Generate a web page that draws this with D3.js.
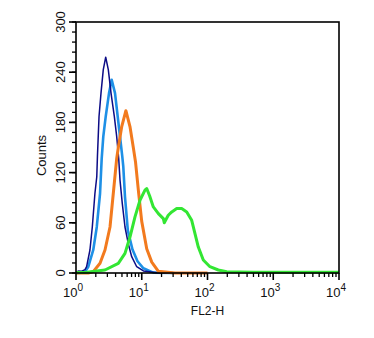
<!DOCTYPE html>
<html><head><meta charset="utf-8">
<script src="https://cdn.jsdelivr.net/npm/d3@7"></script>
<style>body{margin:0;background:#fff}svg{display:block}text{font-family:"Liberation Sans",Arial,sans-serif;fill:#111}</style>
</head><body><div id="c"></div>
<script>
// FL2-H intensity (x) and counts (y) per series
const navyX = [1.0, 1.1, 1.2, 1.37, 1.45, 1.63, 1.77, 1.94, 2.07, 2.12, 2.24, 2.40, 2.60, 2.83, 3.10, 3.41, 3.83, 4.16, 4.46, 4.67, 5.06, 5.56, 6.24, 7.03, 8.38, 10.6, 16.9, 30];
const navyY = [1, 2.5, 2, 4, 7.5, 27.5, 55, 95, 115, 140, 187, 215, 243, 258, 243, 215, 187, 163, 137, 111, 83, 55, 35, 19.5, 7.5, 2.4, 0.4, 0];
const blueX = [1.0, 1.2, 1.37, 1.54, 1.83, 2.07, 2.32, 2.46, 2.60, 2.83, 3.18, 3.49, 3.92, 4.31, 4.67, 5.06, 5.24, 5.56, 6.14, 7.23, 8.62, 10.6, 15.0, 30];
const blueY = [0, 0.5, 1.5, 7.5, 27.5, 55, 95, 137, 163, 187, 215, 231, 215, 187, 163, 139, 127, 91, 51, 28, 14, 5.6, 0.4, 0];
const orangeX = [1.0, 1.54, 1.83, 2.32, 2.76, 3.29, 3.69, 4.16, 4.40, 4.96, 5.74, 6.62, 7.44, 8.03, 8.93, 9.98, 11.9, 14.2, 17.9, 32, 100];
const orangeY = [0, 0, 1.6, 11.6, 27.5, 55, 95, 137, 150, 175, 194, 175, 150, 133, 97, 62, 29, 13, 2, 0, 0];
const greenX = [1.0, 1.37, 2.76, 4.40, 5.56, 6.62, 7.89, 9.40, 11.2, 11.9, 13.2, 15.0, 17.9, 21.3, 22.0, 25.3, 28.6, 34.0, 40.5, 48.3, 57.5, 64.5, 72.5, 86.3, 109, 146, 196, 500, 1000, 3000, 10000];
const greenY = [0.5, 0.5, 3.6, 11.6, 23.5, 43, 67, 87, 99, 101, 92, 79, 71, 65, 60, 69, 73, 77, 77, 73, 63, 47, 31, 15.5, 7.5, 3.6, 1.6, 1, 1, 1, 1];
const yTickValues = [0, 60, 120, 180, 240, 300];
const xDecades = [0, 1, 2, 3, 4];
const xLabel = "FL2-H";
const yLabel = "Counts";

const W = 374, H = 338;
const m = {l: 76, t: 22, r: 35, b: 65};
const svg = d3.select("#c").append("svg").attr("width", W).attr("height", H);
const x = d3.scaleLog().domain([1, 10000]).range([m.l, W - m.r]);
const y = d3.scaleLinear().domain([0, 300]).range([H - m.b, m.t]);

const series = [
  {X: blueX, Y: blueY, c: "#1e90e6", w: 2.6},
  {X: navyX, Y: navyY, c: "#0c0c86", w: 1.5},
  {X: orangeX, Y: orangeY, c: "#f27a1e", w: 3},
  {X: greenX, Y: greenY, c: "#33e633", w: 3}
];
const line = d3.line().x(d => x(d[0])).y(d => y(d[1]));
series.forEach(s => {
  svg.append("path").datum(s.X.map((v, i) => [v, s.Y[i]]))
    .attr("d", line).attr("fill", "none").attr("stroke", s.c)
    .attr("stroke-width", s.w).attr("stroke-linejoin", "round");
});

// frame
svg.append("rect").attr("x", m.l).attr("y", m.t)
  .attr("width", W - m.r - m.l).attr("height", H - m.b - m.t)
  .attr("fill", "none").attr("stroke", "#000").attr("stroke-width", 1.6);

// x ticks
const xMinor = [];
xDecades.slice(0, -1).forEach(d => { for (let k = 2; k <= 9; k++) xMinor.push(k * Math.pow(10, d)); });
const xAxis = svg.append("g").attr("transform", `translate(0,${H - m.b})`);
xAxis.selectAll("line.mi").data(xMinor).join("line")
  .attr("x1", d => x(d)).attr("x2", d => x(d)).attr("y1", 0).attr("y2", 4)
  .attr("stroke", "#000").attr("stroke-width", 1.3);
xAxis.selectAll("line.ma").data(xDecades).join("line")
  .attr("x1", d => x(Math.pow(10, d))).attr("x2", d => x(Math.pow(10, d))).attr("y1", 0).attr("y2", 7)
  .attr("stroke", "#000").attr("stroke-width", 1.6);
const xl = xAxis.selectAll("text.t").data(xDecades).join("text")
  .attr("x", d => x(Math.pow(10, d)) - 3).attr("y", 24)
  .attr("text-anchor", "middle").attr("font-size", 13);
xl.append("tspan").text("10");
xl.append("tspan").attr("dy", -6).attr("font-size", 10).text(d => d);
svg.append("text").attr("x", x(100)).attr("y", H - m.b + 42)
  .attr("text-anchor", "middle").attr("font-size", 12).text(xLabel);

// y ticks
const yMinor = d3.range(0, 301, 12);
const yAxis = svg.append("g").attr("transform", `translate(${m.l},0)`);
yAxis.selectAll("line.mi").data(yMinor).join("line")
  .attr("x1", -4).attr("x2", 0).attr("y1", d => y(d)).attr("y2", d => y(d))
  .attr("stroke", "#000").attr("stroke-width", 1.3);
yAxis.selectAll("line.ma").data(yTickValues).join("line")
  .attr("x1", -7).attr("x2", 0).attr("y1", d => y(d)).attr("y2", d => y(d))
  .attr("stroke", "#000").attr("stroke-width", 1.6);
yAxis.selectAll("text").data(yTickValues).join("text")
  .attr("transform", d => `translate(-11,${y(d)}) rotate(-90)`)
  .attr("text-anchor", "middle").attr("font-size", 13).text(d => d);
svg.append("text").attr("transform", `translate(46,${(m.t + H - m.b) / 2 + 8}) rotate(-90)`)
  .attr("text-anchor", "middle").attr("font-size", 13).text(yLabel);
</script></body></html>
